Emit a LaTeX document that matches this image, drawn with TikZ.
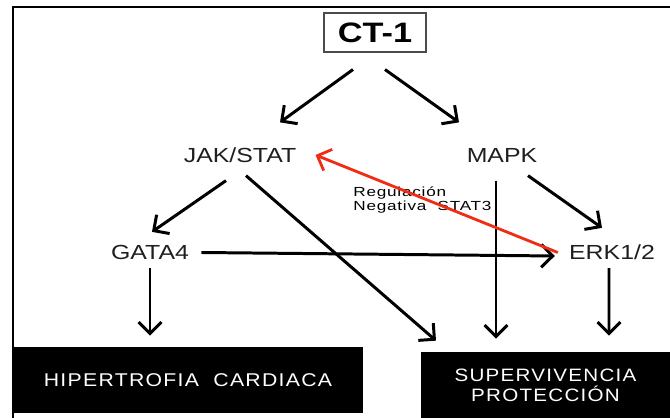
\documentclass[tikz,border=0pt]{standalone}
\usepackage{fontspec}
\setmainfont{Liberation Sans}[FakeStretch=1.22]
\newfontfamily\regfont{Liberation Sans}[FakeStretch=1.3,LetterSpace=6]
\newfontfamily\outfont{Liberation Sans}[FakeStretch=1.15,LetterSpace=7]
\usetikzlibrary{arrows.meta}
\definecolor{regred}{RGB}{238,45,20}
\tikzset{
sig/.style={
  inner sep=0pt,
  text height=8.3pt,
  text depth=0pt,
  text=black!88,
  font=\fontsize{11.6}{14}\selectfont
  }
}
\tikzset{
ligand/.style={
  draw=black!70,
  line width=0.6pt,
  inner sep=0pt,
  minimum width=2.04cm,
  minimum height=0.78cm,
  font=\fontsize{16}{19}\selectfont\bfseries
  }
}
\tikzset{
outcome/.style={
  fill=black,
  text=white,
  align=center,
  inner sep=0pt,
  minimum height=1.32cm,
  font=\fontsize{10.5}{11.4}\outfont
  }
}
\tikzstyle{arr} = [draw,line width=1.7pt,-{Straight Barb[length=6.5pt,width=13pt]}]
\tikzstyle{negarr} = [arr,color=regred,line width=1.6pt]

\begin{document}
\begin{tikzpicture}[x=0.02cm, y=0.02cm]
	\useasboundingbox (0,0) rectangle (670,-418);
	\draw[line width=1.7pt] (13,-418) -- (13,-7) -- (670,-7);

	%vertices
	\node (ct1) at (375,-32.5) [ligand] {CT-1};

	\node (jak) at (240,-155) [sig] {JAK/STAT};
	\node (mapk) at (502,-155) [sig] {MAPK};

	\node (gata) at (150,-252.5) [sig] {GATA4};
	\node (erk) at (612,-252.5) [sig] {ERK1/2};

	\node (hip) at (188,-380) [outcome, minimum width=7cm] {HIPERTROFIA\ \ CARDIACA};
	\node (sup) at (545.5,-385) [outcome, minimum width=4.98cm, font=\fontsize{10.2}{11.4}\outfont] {SUPERVIVENCIA\\PROTECCIÓN};

	\node (neglab) at (353,-186) [anchor=north west, inner sep=0pt, align=left, font=\fontsize{7.5}{8}\regfont] {Regulación\\Negativa \ STAT3};

	%edges
	\draw[arr] ([shift={(-22,-17)}]ct1.south) -- ([shift={(40,25)}]jak.north);
	\draw[arr] ([shift={(10,-17)}]ct1.south) -- ([shift={(-43,25)}]mapk.north);

	\draw[arr] ([shift={(-14,-18)}]jak.south) -- ([shift={(2,13)}]gata.north);
	\draw[arr] ([shift={(6,-13)}]jak.south) -- ([shift={(-109.5,11)}]sup.north);

	\draw[arr] ([shift={(-6,-18)}]mapk.south) -- ([shift={(-49.5,13)}]sup.north);
	\draw[arr] ([shift={(26,-13)}]mapk.south) -- ([shift={(-10,17)}]erk.north);

	\draw[arr] ([shift={(12,0)}]gata.east) -- ([shift={(-14,-3.5)}]erk.west);
	\draw[arr] ([shift={(0,-8)}]gata.south) -- ([shift={(-38,11)}]hip.north);

	\draw[arr] ([shift={(-3,-8)}]erk.south) -- ([shift={(63.5,16)}]sup.north);

	\draw[negarr] ([shift={(-11,0)}]erk.west) -- ([shift={(19,0)}]jak.east);
\end{tikzpicture}
\end{document}
